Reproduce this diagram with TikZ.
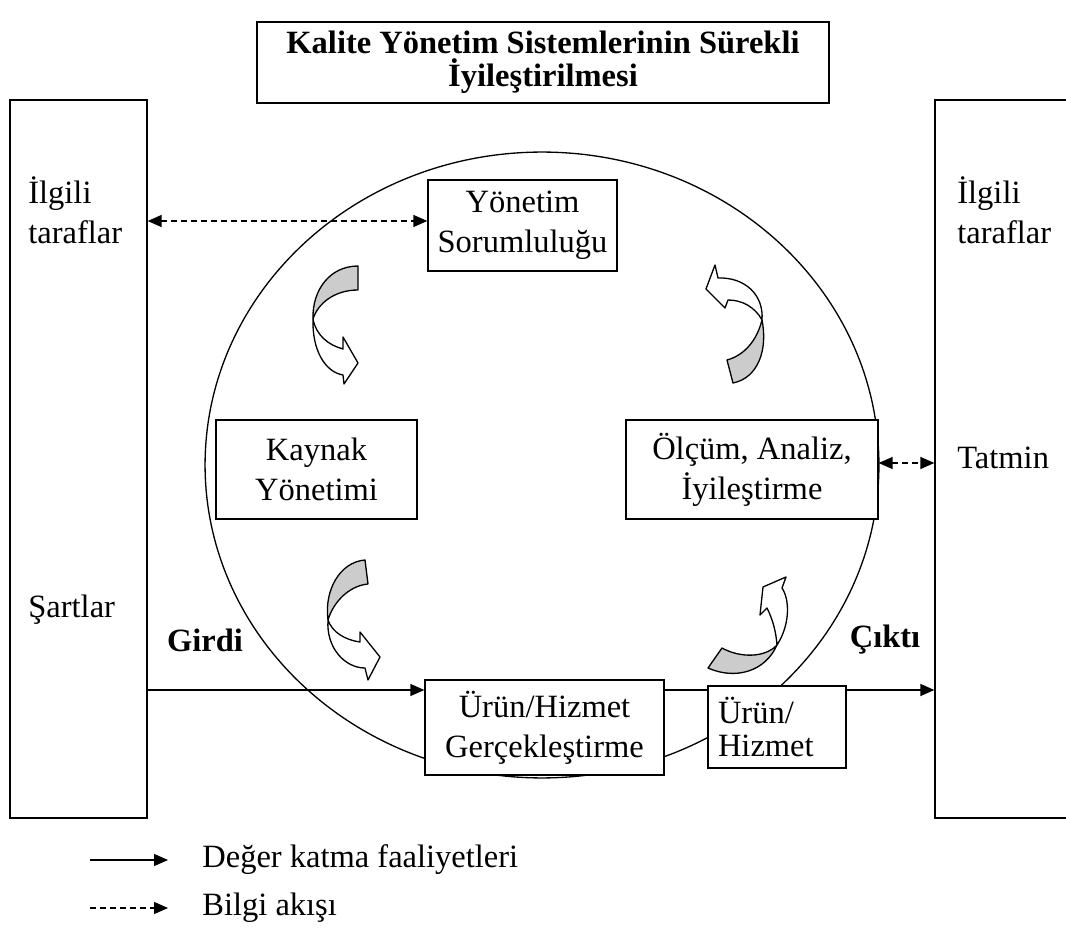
\documentclass[tikz,border=0pt]{standalone}
\usepackage{fontspec}
\setmainfont{Liberation Serif}
\usetikzlibrary{arrows.meta}

\begin{document}
\begin{tikzpicture}[x=0.02cm,y=-0.02cm,font=\fontsize{18.5}{22.7}\selectfont,
  kutu/.style={draw,fill=white,line width=0.75pt,align=center,inner sep=0pt},
  yazi/.style={inner sep=0pt,align=left,anchor=west},
  akis/.style={line width=0.75pt,-{Triangle[length=0.28cm,width=0.24cm]}},
  bilgi/.style={line width=0.75pt,dash pattern=on 0.12cm off 0.08cm,{Triangle[length=0.28cm,width=0.24cm]}-{Triangle[length=0.28cm,width=0.24cm]}},
  ok/.style={line width=0.75pt,line join=round}]
\useasboundingbox (0,0) rectangle (1066,929);
\draw[line width=0.75pt] (542,465) ellipse [x radius=6.74cm,y radius=6.26cm];

\node[kutu,minimum width=11.44cm,minimum height=1.62cm,font=\fontsize{18.5}{18.7}\selectfont\bfseries] (baslik) at (543,62.5) {Kalite Yönetim Sistemlerinin Sürekli\\İyileştirilmesi};
\node[kutu,minimum width=2.74cm,minimum height=14.36cm] (sol) at (78.5,459) {};
\node[kutu,minimum width=2.9cm,minimum height=14.36cm] (sag) at (1007.5,459) {};
\node[kutu,minimum width=3.78cm,minimum height=1.82cm] (yonetim) at (522.5,225.5) {Yönetim\\Sorumluluğu};
\node[kutu,minimum width=4.02cm,minimum height=1.98cm] (kaynak) at (316.5,469.5) {Kaynak\\Yönetimi};
\node[kutu,minimum width=5.04cm,minimum height=1.98cm] (olcum) at (752,469.5) {Ölçüm, Analiz,\\İyileştirme};
\node[kutu,minimum width=4.78cm,minimum height=1.9cm] (gerc) at (544.5,727.5) {Ürün/Hizmet\\Gerçekleştirme};
\node[kutu,minimum width=2.76cm,minimum height=1.64cm,text width=2.36cm,align=left,inner xsep=0.2cm,font=\fontsize{18.5}{18.7}\selectfont] (urun) at (777,727) {Ürün/\\Hizmet};

\node[yazi] (ilgili1) at (28,210) {İlgili\\taraflar};
\node[yazi] (sartlar) at (28,610) {Şartlar};
\node[yazi] (ilgili2) at (957,210) {İlgili\\taraflar};
\node[yazi] (tatmin) at (957,458) {Tatmin};
\node[font=\fontsize{18.5}{18.7}\selectfont\bfseries] (girdi) at (205,640) {Girdi};
\node[font=\fontsize{18.5}{18.7}\selectfont\bfseries] (cikti) at (885,640) {Çıktı};

\draw[akis] (sol.east |- 0,690) -- (gerc.west |- 0,690);
\draw[line width=0.75pt] (gerc.east |- 0,690) -- (urun.west |- 0,690);
\draw[akis] (urun.east |- 0,690) -- (sag.west |- 0,690);
\draw[bilgi] (sol.east |- 0,221) -- (yonetim.west |- 0,221);
\draw[bilgi] (olcum.east |- 0,463) -- (sag.west |- 0,463);

\filldraw[ok,fill=white] (313,319) .. controls (312,350) and (325,372) .. (343,375) -- (344,384) -- (358,363) -- (343,337) -- (343,349) .. controls (328,345) and (316,335) .. (313,319) -- cycle;
\filldraw[ok,fill=gray!40] (358,266) .. controls (330,266) and (312,290) .. (313,319) .. controls (318,303) and (335,290) .. (358,290) -- cycle;
\filldraw[ok,fill=white] (328,620) .. controls (326,648) and (345,668) .. (365,668) -- (368,680) -- (380,657) -- (360,632) -- (360,642) .. controls (345,640) and (332,632) .. (328,620) -- cycle;
\filldraw[ok,fill=gray!40] (365,560) .. controls (340,562) and (324,590) .. (328,620) .. controls (333,603) and (348,586) .. (368,584) -- cycle;
\filldraw[ok,fill=white] (762,320) .. controls (764,295) and (745,277) .. (718,278) -- (715,265) -- (706,289) -- (725,308) -- (728,300) .. controls (742,300) and (755,307) .. (762,320) -- cycle;
\filldraw[ok,fill=gray!40] (733,383) .. controls (758,378) and (768,350) .. (762,320) .. controls (757,340) and (745,355) .. (727,360) -- cycle;
\filldraw[ok,fill=white] (777,645) .. controls (790,625) and (790,600) .. (782,588) -- (786,577) -- (763,587) -- (760,615) -- (767,608) .. controls (773,620) and (776,632) .. (777,645) -- cycle;
\filldraw[ok,fill=gray!40] (708,668) .. controls (735,680) and (765,672) .. (777,645) .. controls (765,658) and (740,658) .. (722,648) -- cycle;

\coordinate (l1a) at (90,860);
\coordinate (l1b) at (168,860);
\coordinate (l2a) at (90,908);
\coordinate (l2b) at (168,908);
\draw[akis] (l1a) -- (l1b);
\draw[line width=0.75pt,dash pattern=on 0.12cm off 0.08cm,-{Triangle[length=0.28cm,width=0.24cm]}] (l2a) -- (l2b);
\node[yazi] (deger) at (202,860) {Değer katma faaliyetleri};
\node[yazi] (bilgiakisi) at (202,908) {Bilgi akışı};
\end{tikzpicture}
\end{document}
